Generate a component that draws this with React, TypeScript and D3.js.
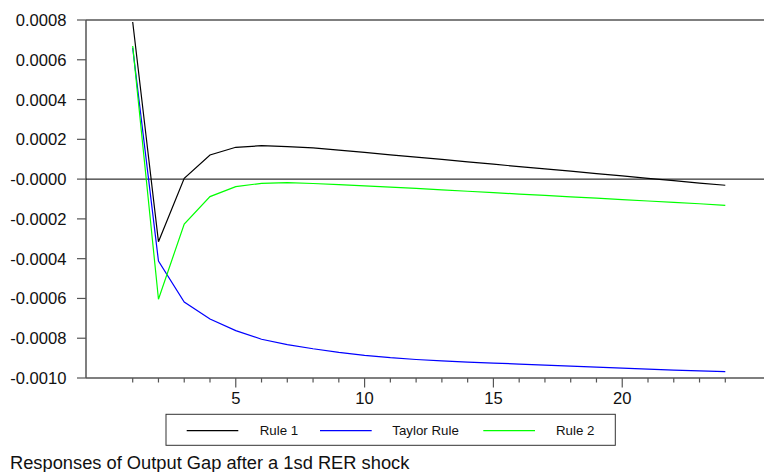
import React from "react";
import * as d3 from "d3";

const periods = d3.range(1, 25);
const rule1 = [0.00079, -0.000315, 0.000004, 0.000121, 0.00016, 0.000168, 0.000163, 0.000157, 0.000146, 0.000134, 0.000122, 0.000111, 0.000099, 0.000087, 0.000075, 0.000063, 0.000051, 0.00004, 0.000028, 0.000016, 0.000004, -0.000008, -0.00002, -0.000031];
const taylorRule = [0.00066, -0.000412, -0.000618, -0.000703, -0.000762, -0.000805, -0.000832, -0.000853, -0.000871, -0.000886, -0.000898, -0.000907, -0.000914, -0.00092, -0.000925, -0.00093, -0.000935, -0.00094, -0.000945, -0.00095, -0.000955, -0.00096, -0.000964, -0.000968];
const rule2 = [0.000669, -0.000604, -0.000226, -0.000088, -0.000038, -0.000021, -0.000018, -0.000022, -0.000028, -0.000034, -0.00004, -0.000047, -0.000054, -0.000061, -0.000068, -0.000075, -0.000082, -0.000089, -0.000096, -0.000103, -0.00011, -0.000117, -0.000124, -0.000132];
const yTickValues = [0.0008, 0.0006, 0.0004, 0.0002, 0, -0.0002, -0.0004, -0.0006, -0.0008, -0.001];
const yTickLabels = ["0.0008", "0.0006", "0.0004", "0.0002", "-0.0000", "-0.0002", "-0.0004", "-0.0006", "-0.0008", "-0.0010"];
const xMajorTicks = [5, 10, 15, 20];
const seriesNames = ["Rule 1", "Taylor Rule", "Rule 2"];
const seriesColors = ["#000000", "#0000ff", "#00ff00"];
const title = "Responses of Output Gap after a 1sd RER shock";

export default function App() {
  const left = 86, top = 20, bottom = 378, right = 764;
  const x = d3.scaleLinear().domain([1, 24]).range([132.7, 725.3]);
  const y = d3.scaleLinear().domain([-0.001, 0.0008]).range([bottom, top]);
  const series = [rule1, taylorRule, rule2];
  const line = d3.line<number>().x((_, i) => x(periods[i])).y((d) => y(d));
  const font = "'Liberation Sans', Arial, sans-serif";
  const legendItems = [
    { x1: 186.7, x2: 238.3, tx: 259.7 },
    { x1: 320, x2: 371.7, tx: 392.3 },
    { x1: 483.3, x2: 535, tx: 556 },
  ];
  return (
    <svg width={764} height={472} style={{ position: "absolute", left: 0, top: 0, background: "#fff" }} fontFamily={font}>
      <line x1={left} x2={right} y1={top} y2={top} stroke="#555" strokeWidth={1.5} />
      <line x1={left} x2={right} y1={bottom} y2={bottom} stroke="#555" strokeWidth={1.5} />
      <line x1={left} x2={left} y1={top} y2={bottom} stroke="#555" strokeWidth={1.5} />
      {yTickValues.map((v, i) => (
        <g key={i}>
          <line x1={77} x2={left} y1={y(v)} y2={y(v)} stroke="#555" strokeWidth={1.2} />
          <text x={66.5} y={y(v)} dy="0.36em" textAnchor="end" fontSize={16.6} fill="#111">
            {yTickLabels[i]}
          </text>
        </g>
      ))}
      {periods.map((p) => {
        const major = xMajorTicks.includes(p);
        return (
          <line key={p} x1={x(p)} x2={x(p)} y1={bottom} y2={bottom + (major ? 9.5 : 4.5)} stroke="#555" strokeWidth={1.2} />
        );
      })}
      {xMajorTicks.map((p) => (
        <text key={p} x={x(p)} y={403.5} textAnchor="middle" fontSize={16.6} fill="#111">
          {p}
        </text>
      ))}
      <line x1={left} x2={right} y1={y(0)} y2={y(0)} stroke="#000" strokeWidth={1} />
      {series.map((s, i) => (
        <path key={i} d={line(s) || ""} fill="none" stroke={seriesColors[i]} strokeWidth={1.2} />
      ))}
      <rect x={166} y={414.3} width={449.3} height={31} fill="#fff" stroke="#333" strokeWidth={1} />
      {legendItems.map((it, i) => (
        <g key={i}>
          <line x1={it.x1} x2={it.x2} y1={430.7} y2={430.7} stroke={seriesColors[i]} strokeWidth={1.2} />
          <text x={it.tx} y={430.7} dy="0.36em" fontSize={13.3} fill="#111">
            {seriesNames[i]}
          </text>
        </g>
      ))}
      <text x={10} y={469.3} fontSize={18.3} fill="#111">
        {title}
      </text>
    </svg>
  );
}
